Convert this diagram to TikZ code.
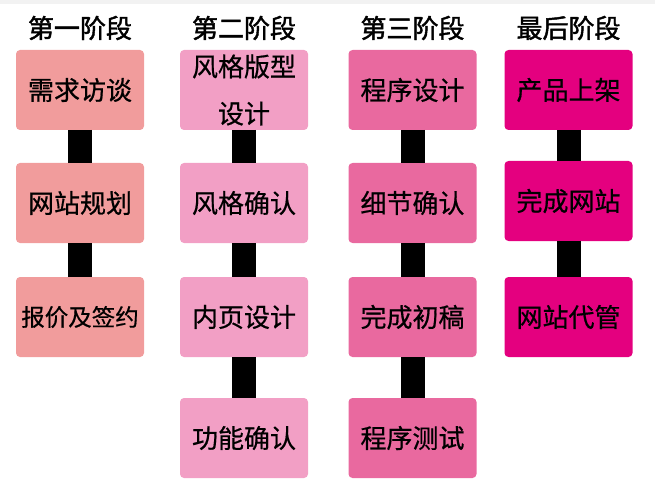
\documentclass[tikz,border=0pt]{standalone}
\usepackage{fontspec}
\newfontfamily\cjk[FakeBold=0.6]{Noto Sans CJK SC}
\newfontfamily\cjkhead[FakeBold=1.6]{Noto Sans CJK SC}
\usepackage{tikz}
\definecolor{cF2F2F2}{RGB}{242,242,242}
\definecolor{cF19C9C}{RGB}{241,156,156}
\definecolor{cF29FC5}{RGB}{242,159,197}
\definecolor{cE9699F}{RGB}{233,105,159}
\definecolor{cE4007F}{RGB}{228,0,127}

\begin{document}
\begin{tikzpicture}[y=1pt,x=1pt,yscale=-1, inner sep=0pt, outer sep=0pt,
    stagebox/.style={rounded corners=4pt,minimum width=128pt,minimum height=80pt,
      align=center,font=\cjk\fontsize{26}{47}\selectfont},
    stagehead/.style={font=\cjkhead\fontsize{26}{30}\selectfont},
    stagelink/.style={draw=black,line width=24pt}]
    \useasboundingbox (0,0) rectangle (655,489);
    \path[fill=cF2F2F2] (0,0) rectangle (655,4);
    % headers
    \node[stagehead] (h1) at (80,28) {第一阶段};
    \node[stagehead] (h2) at (244,28) {第二阶段};
    \node[stagehead] (h3) at (412.5,28) {第三阶段};
    \node[stagehead] (h4) at (568.5,28) {最后阶段};
    % first stage
    \node[stagebox,fill=cF19C9C] (s1a) at (80,90) {需求访谈};
    \node[stagebox,fill=cF19C9C] (s1b) at (80,203) {网站规划};
    \node[stagebox,fill=cF19C9C,font=\cjk\fontsize{23.5}{30}\selectfont] (s1c) at (80,317) {报价及签约};
    % second stage
    \node[stagebox,fill=cF29FC5] (s2a) at (244,90) {风格版型\\设计};
    \node[stagebox,fill=cF29FC5] (s2b) at (244,203) {风格确认};
    \node[stagebox,fill=cF29FC5] (s2c) at (244,317) {内页设计};
    \node[stagebox,fill=cF29FC5] (s2d) at (244,438) {功能确认};
    % third stage
    \node[stagebox,fill=cE9699F] (s3a) at (412.5,90) {程序设计};
    \node[stagebox,fill=cE9699F] (s3b) at (412.5,203) {细节确认};
    \node[stagebox,fill=cE9699F] (s3c) at (412.5,317) {完成初稿};
    \node[stagebox,fill=cE9699F] (s3d) at (412.5,438) {程序测试};
    % last stage
    \node[stagebox,fill=cE4007F] (s4a) at (568.5,90) {产品上架};
    \node[stagebox,fill=cE4007F] (s4b) at (568.5,201) {完成网站};
    \node[stagebox,fill=cE4007F] (s4c) at (568.5,317) {网站代管};
    % links
    \path[stagelink] (s1a.south) -- (s1b.north);
    \path[stagelink] (s1b.south) -- (s1c.north);
    \path[stagelink] (s2a.south) -- (s2b.north);
    \path[stagelink] (s2b.south) -- (s2c.north);
    \path[stagelink] (s2c.south) -- (s2d.north);
    \path[stagelink] (s3a.south) -- (s3b.north);
    \path[stagelink] (s3b.south) -- (s3c.north);
    \path[stagelink] (s3c.south) -- (s3d.north);
    \path[stagelink] (s4a.south) -- (s4b.north);
    \path[stagelink] (s4b.south) -- (s4c.north);
\end{tikzpicture}
\end{document}
